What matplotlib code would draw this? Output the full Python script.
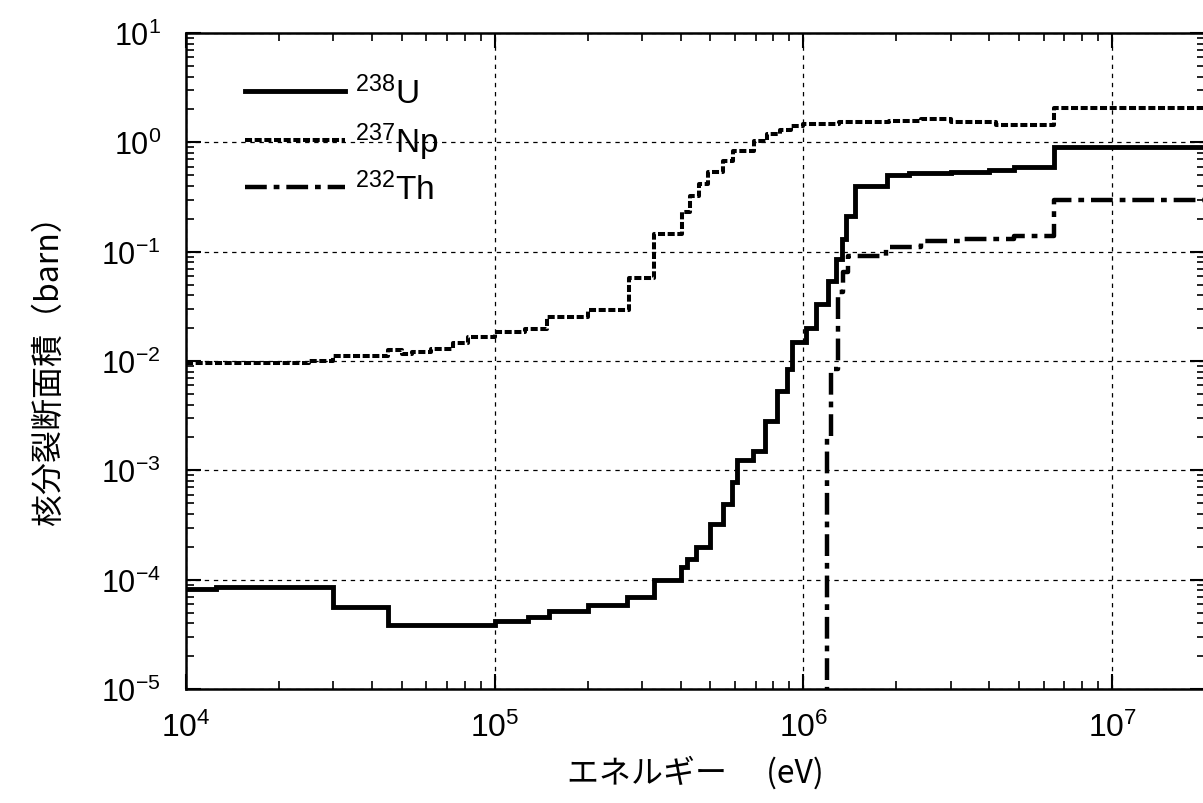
import numpy as np
import matplotlib
matplotlib.use("Agg")
import matplotlib.pyplot as plt
from matplotlib.ticker import LogLocator, NullFormatter

plt.rcParams['font.family'] = ['Liberation Sans', 'Noto Sans CJK JP', 'DejaVu Sans']
plt.rcParams['mathtext.fontset'] = 'custom'
plt.rcParams['mathtext.rm'] = 'Liberation Sans'
plt.rcParams['mathtext.it'] = 'Liberation Sans'
plt.rcParams['mathtext.bf'] = 'Liberation Sans'

# group boundaries (eV) and cross sections (barn) for each nuclide
u238_edges = [1.0e4, 1.25e4, 3.0e4, 4.5e4, 1.0e5, 1.28e5, 1.5e5, 2.0e5, 2.68e5, 3.28e5,
              4.0e5, 4.2e5, 4.5e5, 5.0e5, 5.5e5, 5.85e5, 6.1e5, 6.85e5, 7.5e5, 8.2e5,
              8.85e5, 9.2e5, 1.02e6, 1.1e6, 1.2e6, 1.28e6, 1.33e6, 1.37e6, 1.47e6,
              1.86e6, 2.2e6, 3.0e6, 4.0e6, 4.8e6, 6.5e6, 2.0e7]
u238_sigma = [8.3e-5, 8.6e-5, 5.6e-5, 3.85e-5, 4.15e-5, 4.55e-5, 5.15e-5, 5.85e-5, 7.0e-5,
              1.0e-4, 1.3e-4, 1.55e-4, 2.0e-4, 3.2e-4, 4.9e-4, 7.8e-4, 1.25e-3, 1.5e-3,
              2.8e-3, 5.3e-3, 8.5e-3, 1.5e-2, 2.0e-2, 3.3e-2, 5.4e-2, 8.5e-2, 0.13, 0.21,
              0.40, 0.50, 0.52, 0.54, 0.56, 0.60, 0.90]

np237_edges = [1.0e4, 2.5e4, 3.0e4, 4.5e4, 5.0e4, 5.4e4, 6.2e4, 7.3e4, 8.2e4, 1.0e5, 1.25e5,
               1.48e5, 2.0e5, 2.72e5, 3.28e5, 4.05e5, 4.3e5, 4.6e5, 4.9e5, 5.5e5, 5.9e5,
               6.9e5, 7.6e5, 8.4e5, 9.1e5, 1.0e6, 1.3e6, 1.9e6, 2.4e6, 3.0e6, 4.2e6,
               6.5e6, 2.0e7]
np237_sigma = [9.6e-3, 1.0e-2, 1.1e-2, 1.25e-2, 1.15e-2, 1.2e-2, 1.3e-2, 1.45e-2, 1.65e-2,
               1.85e-2, 1.95e-2, 2.5e-2, 2.9e-2, 5.8e-2, 0.145, 0.23, 0.32, 0.42, 0.54,
               0.67, 0.84, 1.03, 1.19, 1.30, 1.40, 1.47, 1.53, 1.57, 1.62, 1.52, 1.44, 2.08]

th232_edges = [1.15e6, 1.19e6, 1.23e6, 1.29e6, 1.34e6, 1.39e6, 1.85e6, 2.4e6, 3.3e6,
               4.8e6, 6.5e6, 2.0e7]
th232_sigma = [1e-7, 2.0e-3, 8.5e-3, 4.3e-2, 6.5e-2, 0.092, 0.11, 0.125, 0.13, 0.14, 0.30]

labels = [r'$^{238}$U', r'$^{237}$Np', r'$^{232}$Th']


def steps(edges, vals):
    xs = np.repeat(np.asarray(edges, float), 2)[1:-1]
    ys = np.repeat(np.asarray(vals, float), 2)
    return xs, ys


fig = plt.figure(figsize=(12.03, 8.04), dpi=100)
ax = fig.add_axes([186 / 1203, 1 - 690 / 804, 1019 / 1203, 656 / 804])

x, y = steps(u238_edges, u238_sigma)
ax.plot(x, y, color='black', lw=3.5, solid_joinstyle='miter', label=labels[0])
x, y = steps(np237_edges, np237_sigma)
ax.plot(x, y, color='black', lw=2.9, dashes=(1.75, 0.65), label=labels[1])
x, y = steps(th232_edges, th232_sigma)
ax.plot(x, y, color='black', lw=3.2, dashes=(4.9, 1.55, 1.3, 1.55), label=labels[2])

ax.set_xscale('log')
ax.set_yscale('log')
ax.set_xlim(1e4, 2e7)
ax.set_ylim(1e-5, 1e1)
ax.xaxis.set_major_locator(LogLocator(base=10, numticks=20))
ax.yaxis.set_major_locator(LogLocator(base=10, numticks=20))
ax.xaxis.set_minor_locator(LogLocator(base=10, subs=np.arange(2, 10), numticks=20))
ax.yaxis.set_minor_locator(LogLocator(base=10, subs=np.arange(2, 10), numticks=20))
ax.xaxis.set_minor_formatter(NullFormatter())
ax.yaxis.set_minor_formatter(NullFormatter())

ax.grid(True, which='major', color='black', lw=0.9, linestyle=(0, (3.5, 3.8)))
ax.tick_params(which='both', direction='in', top=True, right=True, colors='black')
ax.tick_params(which='major', length=11, width=1.5)
ax.tick_params(which='minor', length=6, width=1.2)
ax.tick_params(axis='x', which='major', labelsize=23, pad=16)
ax.tick_params(axis='y', which='major', labelsize=22, pad=18)
for s in ax.spines.values():
    s.set_linewidth(1.8)

ax.set_xlabel('エネルギー　 (eV)', fontsize=23, family=['Noto Sans CJK JP', 'DejaVu Sans'], labelpad=9)
ax.set_ylabel('核分裂断面積（barn）', fontsize=23, family=['Noto Sans CJK JP', 'DejaVu Sans'], labelpad=26)

ax.legend(loc='upper left', bbox_to_anchor=(0.058, 0.935), frameon=False, fontsize=24,
          handlelength=3.0, handletextpad=0.3, labelspacing=0.3, borderpad=0, borderaxespad=0)

fig.savefig('out.png', dpi=100)
